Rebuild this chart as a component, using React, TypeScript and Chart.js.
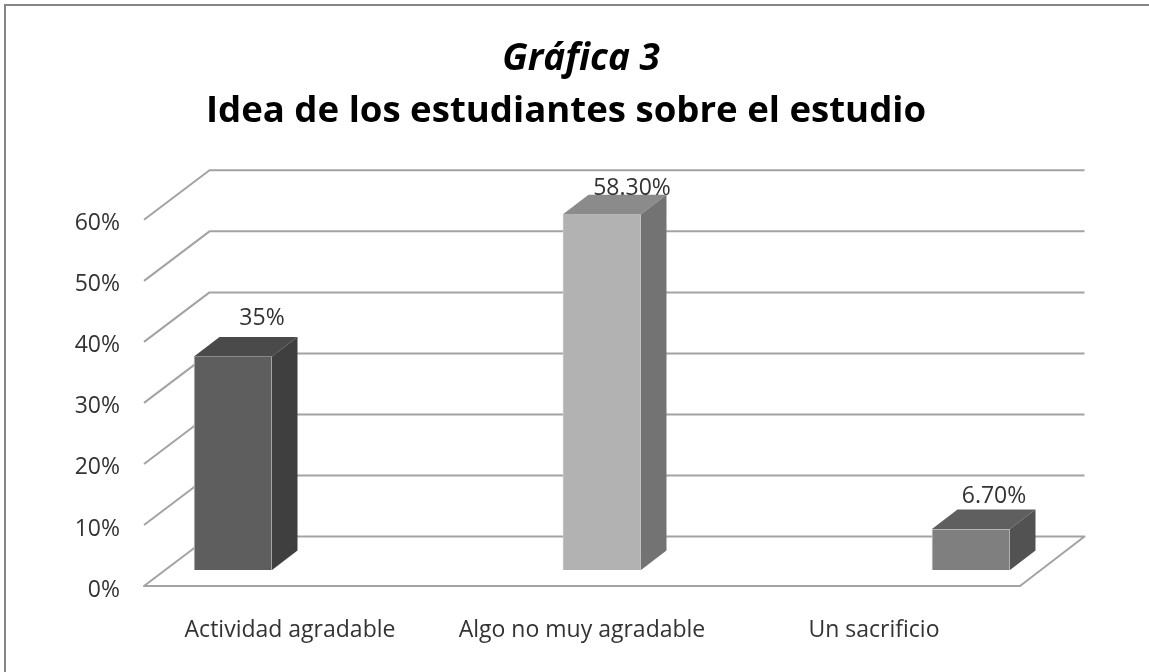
import React, { useEffect, useRef } from "react";
import { Chart, registerables } from "chart.js";

Chart.register(...registerables);

const categories = ["Actividad agradable", "Algo no muy agradable", "Un sacrificio"];
const barSlots = [0, 1, 2];
const values = [35, 58.3, 6.7];
const valueLabels = ["35%", "58.30%", "6.70%"];
const titleText = "Gráfica 3";
const subtitleText = "Idea de los estudiantes sobre el estudio";

const frontColors = ["#5e5e5e", "#b2b2b2", "#7f7f7f"];
const topColors = ["#4a4a4a", "#8b8b8b", "#5f5f5f"];
const sideColors = ["#3f3f3f", "#737373", "#525252"];
const labelShiftX = [29, 30, 23];
const labelLift = [38, 26, 33];

const FONT = "'Open Sans', sans-serif";
const GRID = "#a3a3a3";
const WALL_DX = 65.5;
const WALL_DY = 49.5;
const WALL_WIDTH = 876;
const BAR_DX = 25.5;
const BAR_DY = 19.5;
const TITLE_SHIFT = 6.5;
const SUBTITLE_SHIFT = -8.5;

const frame3d = {
  id: "frame3d",
  afterLayout(chart: any) {
    for (const box of chart.boxes) {
      const text = box.options && box.options.text;
      const shift = text === titleText ? TITLE_SHIFT : text === subtitleText ? SUBTITLE_SHIFT : 0;
      box.left += shift;
      box.right += shift;
    }
  },
  beforeDraw(chart: any) {
    const { ctx, width, height } = chart;
    ctx.save();
    ctx.fillStyle = "#ffffff";
    ctx.fillRect(0, 0, width, height);
    ctx.strokeStyle = "#868686";
    ctx.lineWidth = 2;
    ctx.beginPath();
    ctx.moveTo(5, height);
    ctx.lineTo(5, 5);
    ctx.lineTo(width, 5);
    ctx.stroke();
    ctx.restore();
  },
  beforeDatasetsDraw(chart: any) {
    const { ctx, scales } = chart;
    const y = scales.y;
    const left = scales.x.left;
    ctx.save();
    ctx.strokeStyle = GRID;
    ctx.lineWidth = 2;
    ctx.lineJoin = "round";
    for (const tick of y.ticks) {
      const py = y.getPixelForValue(tick.value);
      ctx.beginPath();
      ctx.moveTo(left, py);
      ctx.lineTo(left + WALL_DX, py - WALL_DY);
      ctx.lineTo(left + WALL_DX + WALL_WIDTH - 1, py - WALL_DY);
      if (tick.value === 0) {
        ctx.lineTo(left + WALL_WIDTH, py);
        ctx.closePath();
      }
      ctx.stroke();
    }
    ctx.restore();
  },
  afterDatasetsDraw(chart: any) {
    const { ctx } = chart;
    const bars = chart.getDatasetMeta(0).data;
    ctx.save();
    bars.forEach((bar: any, i: number) => {
      const half = bar.width / 2;
      const l = bar.x - half;
      const r = bar.x + half;
      const t = bar.y;
      const b = bar.base;
      ctx.fillStyle = topColors[i];
      ctx.beginPath();
      ctx.moveTo(l, t);
      ctx.lineTo(l + BAR_DX, t - BAR_DY);
      ctx.lineTo(r + BAR_DX, t - BAR_DY);
      ctx.lineTo(r, t);
      ctx.closePath();
      ctx.fill();
      ctx.fillStyle = sideColors[i];
      ctx.beginPath();
      ctx.moveTo(r, t);
      ctx.lineTo(r + BAR_DX, t - BAR_DY);
      ctx.lineTo(r + BAR_DX, b - BAR_DY);
      ctx.lineTo(r, b);
      ctx.closePath();
      ctx.fill();
    });
    ctx.fillStyle = "#333333";
    ctx.font = `23px ${FONT}`;
    ctx.textAlign = "center";
    ctx.textBaseline = "middle";
    bars.forEach((bar: any, i: number) => {
      ctx.fillText(valueLabels[i], bar.x + labelShiftX[i], bar.y - labelLift[i]);
    });
    ctx.restore();
  },
};

export default function App() {
  const ref = useRef<HTMLCanvasElement | null>(null);
  useEffect(() => {
    const chart = new Chart(ref.current as HTMLCanvasElement, {
      type: "bar",
      data: {
        labels: categories,
        datasets: [
          {
            data: barSlots.map((slot, i) => ({ x: slot, y: values[i] })),
            xAxisID: "xBars",
            yAxisID: "yBars",
            backgroundColor: frontColors,
            borderColor: "#c9c9c9",
            borderWidth: 1,
            barThickness: 78,
            clip: false,
          } as any,
        ],
      },
      options: {
        responsive: false,
        animation: false,
        layout: { padding: 0 },
        plugins: {
          legend: { display: false },
          tooltip: { enabled: false },
          title: {
            display: true,
            text: titleText,
            color: "#000000",
            font: { family: FONT, size: 37, weight: "bold", style: "italic", lineHeight: 1.2 },
            padding: { top: 37, bottom: 8 },
          },
          subtitle: {
            display: true,
            text: subtitleText,
            color: "#000000",
            font: { family: FONT, size: 36.6, weight: "bold", lineHeight: 1.2 },
            padding: { top: 0, bottom: 86.5 },
          },
        },
        scales: {
          x: {
            type: "category",
            position: "bottom",
            grid: { display: false, drawTicks: false },
            border: { display: false },
            ticks: {
              color: "#333333",
              font: { family: FONT, size: 23 },
              padding: 31,
              maxRotation: 0,
              autoSkip: false,
            },
            afterFit(scale: any) {
              scale.height = 86;
            },
          },
          xBars: {
            type: "linear",
            display: false,
            offset: false,
            min: -0.2412,
            max: 2.1328,
          },
          y: {
            type: "linear",
            position: "left",
            min: 0,
            max: 60,
            grid: { display: false, drawTicks: false },
            border: { display: false },
            ticks: {
              stepSize: 10,
              color: "#333333",
              font: { family: FONT, size: 23 },
              padding: 24,
              labelOffset: 4,
              callback: (v: any) => `${v}%`,
            },
            afterFit(scale: any) {
              scale.width = 144;
            },
          },
          yBars: {
            type: "linear",
            position: "right",
            min: -2.623,
            max: 57.377,
            grid: { display: false, drawTicks: false },
            border: { display: false },
            ticks: { display: false },
            afterFit(scale: any) {
              scale.width = 129;
            },
          },
        },
      } as any,
      plugins: [frame3d],
    });
    return () => chart.destroy();
  }, []);
  return (
    <canvas
      ref={ref}
      width={1149}
      height={672}
      style={{ position: "fixed", left: 0, top: 0, width: 1149, height: 672, display: "block" }}
    />
  );
}
